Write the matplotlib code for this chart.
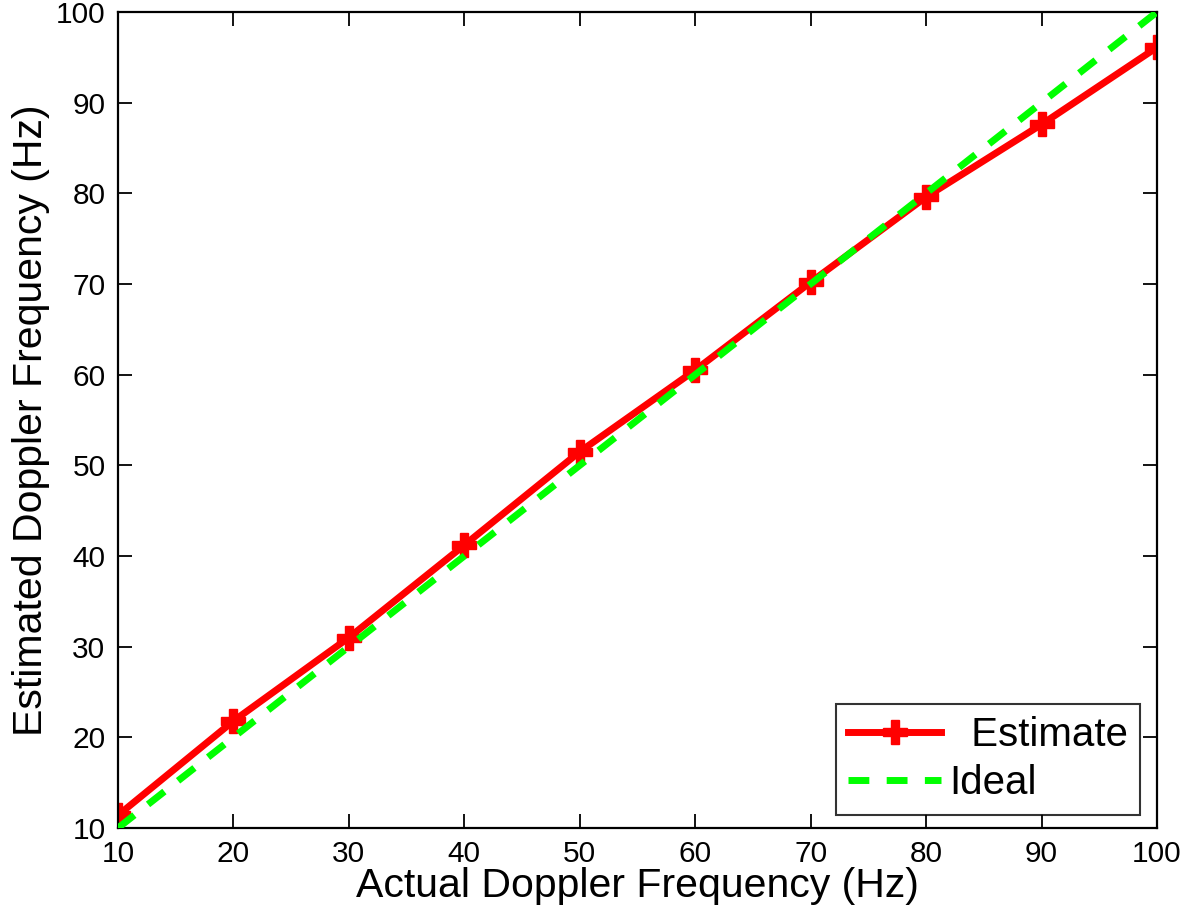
import matplotlib; matplotlib.use("Agg")
import matplotlib.pyplot as plt

# data
actual = [10, 20, 30, 40, 50, 60, 70, 80, 90, 100]
estimate = [11.4, 21.8, 31.0, 41.2, 51.5, 60.5, 70.2, 79.6, 87.6, 96.1]
ideal = [10, 100]
xticks = [10, 20, 30, 40, 50, 60, 70, 80, 90, 100]
yticks = [10, 20, 30, 40, 50, 60, 70, 80, 90, 100]

plt.rcParams['font.family'] = ['Liberation Sans', 'DejaVu Sans']
fig = plt.figure(figsize=(11.81, 9.21), dpi=100)
ax = fig.add_axes([0.0999, 0.101, 0.8798, 0.886])

ax.plot(actual, estimate, color="#ff0000", lw=5, marker="P", ms=17,
        mec="#ff0000", mfc="#ff0000", label="  Estimate", zorder=2)
ax.plot(ideal, ideal, color="#00ff00", lw=5, ls=(0, (3, 2.5)), label="Ideal", zorder=3)

ax.set_xlim(10, 100); ax.set_ylim(10, 100)
ax.set_xticks(xticks); ax.set_yticks(yticks)
ax.tick_params(direction="in", top=True, right=True, length=10, width=1.3,
               labelsize=21.5, pad=9)
for s in ax.spines.values():
    s.set_linewidth(1.6)
ax.set_xlabel("Actual Doppler Frequency (Hz)", fontsize=29.5, labelpad=-1)
ax.set_ylabel("Estimated Doppler Frequency (Hz)", fontsize=29.5, labelpad=4)

leg = ax.legend(loc="lower right", fontsize=29, frameon=True, fancybox=False,
                edgecolor="black", handlelength=2.3, handletextpad=0.2,
                borderpad=0.3, labelspacing=0.25, borderaxespad=0,
                bbox_to_anchor=(0.9836, 0.0165))
leg.get_frame().set_linewidth(1.5)

fig.savefig("out.png", dpi=100)
